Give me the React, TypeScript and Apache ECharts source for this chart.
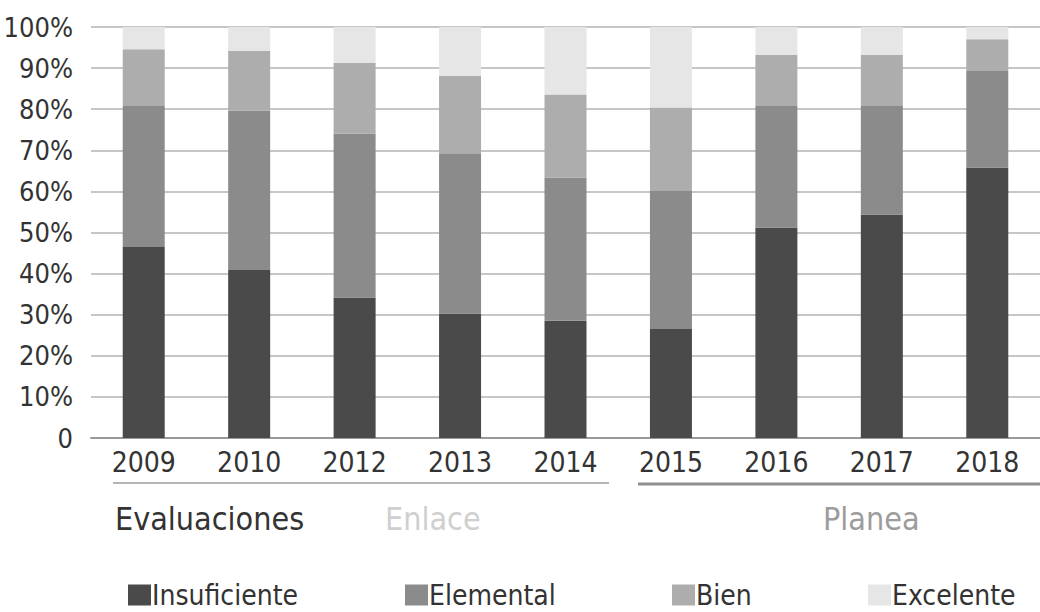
import React, { useEffect, useRef } from "react";
import * as echarts from "echarts";

const years = ["2009", "2010", "2012", "2013", "2014", "2015", "2016", "2017", "2018"];
const insuficiente = [46.5, 40.9, 34.2, 30.3, 28.5, 26.5, 51.2, 54.4, 65.8];
const elemental = [34.3, 38.7, 39.9, 39.0, 34.9, 33.8, 29.6, 26.4, 23.5];
const bien = [13.8, 14.6, 17.2, 18.8, 20.2, 20.1, 12.4, 12.4, 7.7];
const excelente = [5.4, 5.8, 8.7, 11.9, 16.4, 19.6, 6.8, 6.8, 3.0];
const seriesNames = ["Insuficiente", "Elemental", "Bien", "Excelente"];
const seriesColors = ["#4a4a4a", "#8b8b8b", "#adadad", "#e6e6e6"];
const yTicks = [0, 10, 20, 30, 40, 50, 60, 70, 80, 90, 100];

const FONT = "'Liberation Sans Narrow', 'DejaVu Sans Condensed', 'Roboto', sans-serif";

export default function App() {
  const ref = useRef<HTMLDivElement>(null);
  useEffect(() => {
    if (!ref.current) return;
    const chart = echarts.init(ref.current, null, { renderer: "svg" });
    const data = [insuficiente, elemental, bien, excelente];
    const legendLefts = [123, 400, 667, 863];
    chart.setOption({
      animation: false,
      backgroundColor: "#ffffff",
      grid: { left: 91, right: -4, top: 27, bottom: 612 - 438, containLabel: false },
      xAxis: {
        type: "category",
        data: years,
        axisLine: { show: true, lineStyle: { color: "#999999", width: 2 } },
        axisTick: { show: false },
        axisLabel: { color: "#333333", fontSize: 28, fontFamily: FONT, margin: 10 },
      },
      yAxis: {
        type: "value",
        min: yTicks[0],
        max: yTicks[yTicks.length - 1],
        interval: 10,
        axisLine: { show: false },
        axisTick: { show: false },
        splitLine: { lineStyle: { color: "#b3b3b3", width: 1.5 } },
        axisLabel: {
          color: "#333333",
          fontSize: 27,
          fontFamily: FONT,
          margin: 18,
          formatter: (v: number) => (v === 0 ? "0" : v + "%"),
        },
      },
      legend: seriesNames.map((n, i) => ({
        data: [n],
        left: legendLefts[i],
        top: 575,
        icon: "rect",
        itemWidth: 23,
        itemHeight: 21,
        itemGap: 0,
        textStyle: { color: "#333333", fontSize: 28, lineHeight: 30, fontFamily: FONT, padding: [0, 0, 0, -4] },
      })),
      series: seriesNames.map((n, i) => ({
        name: n,
        type: "bar",
        stack: "total",
        data: data[i],
        barWidth: 42,
        itemStyle: { color: seriesColors[i] },
      })),
      graphic: [
        { type: "line", shape: { x1: 113, y1: 483, x2: 609, y2: 483 }, style: { stroke: "#b5b5b5", lineWidth: 2 } },
        { type: "line", shape: { x1: 638, y1: 484, x2: 1040, y2: 484 }, style: { stroke: "#8f8f8f", lineWidth: 3 } },
        { type: "text", left: 115, top: 503, style: { text: "Evaluaciones", fill: "#333333", fontSize: 32, fontFamily: FONT } },
        { type: "text", left: 385, top: 503, style: { text: "Enlace", fill: "#cfcfcf", fontSize: 32, fontFamily: FONT } },
        { type: "text", left: 823, top: 503, style: { text: "Planea", fill: "#9c9c9c", fontSize: 32, fontFamily: FONT } },
      ],
    });
    return () => chart.dispose();
  }, []);
  return <div ref={ref} style={{ position: "fixed", left: 0, top: 0, width: 1040, height: 612 }} />;
}
